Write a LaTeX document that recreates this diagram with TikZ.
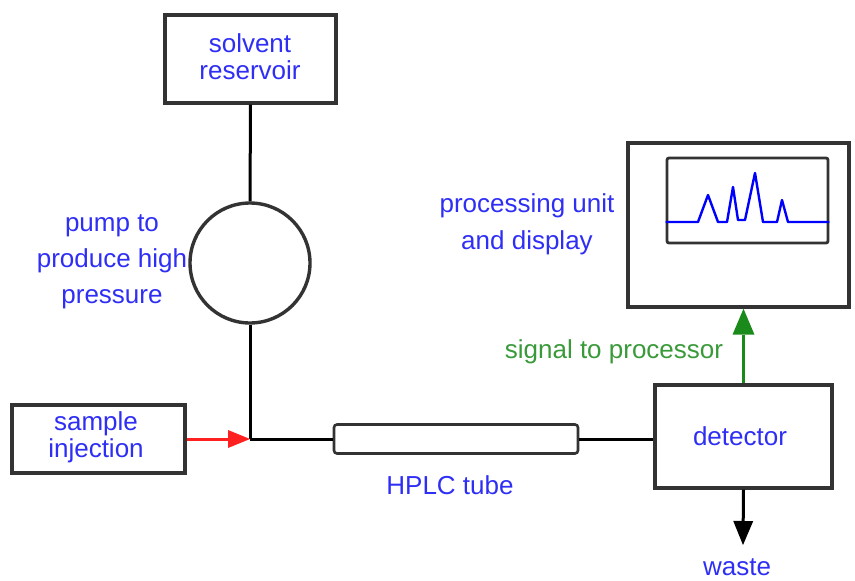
\documentclass[tikz,border=0pt]{standalone}
\usepackage{fontspec}
\setmainfont{Liberation Sans}
\usetikzlibrary{arrows.meta}
\definecolor{txtblue}{HTML}{2E2EF5}
\definecolor{txtgreen}{HTML}{3A9A3A}
\definecolor{arrgreen}{HTML}{1A8A1A}
\definecolor{arrred}{HTML}{FF2020}
\definecolor{boxgray}{HTML}{333333}
\begin{document}
\begin{tikzpicture}[x=1pt,y=-1pt,
  box/.style={draw=boxgray,line width=3.4pt,fill=white,inner sep=0pt},
  lbl/.style={text=txtblue,font=\fontsize{26}{27}\selectfont,align=center,inner sep=0pt},
  pipe/.style={line width=3pt,black},
]
\useasboundingbox (0,0) rectangle (855,581);
% boxes
\node[box,minimum width=171pt,minimum height=88pt] (solv) at (250.5,59) {};
\node[box,circle,minimum size=120pt] (pump) at (250,263) {};
\node[box,minimum width=173pt,minimum height=68pt] (samp) at (98.5,439) {};
\node[box,line width=2.6pt,rounded corners=3pt,minimum width=244pt,minimum height=29pt] (tube) at (456,439) {};
\node[box,minimum width=177pt,minimum height=103pt] (det) at (743.5,436.5) {};
\node[box,minimum width=221pt,minimum height=164pt] (proc) at (738.5,225) {};
\node[box,line width=2.8pt,rounded corners=2pt,minimum width=161pt,minimum height=85pt] (scr) at (747.5,200.5) {};
\coordinate (junc) at (250,439);
\coordinate (wasteend) at (743,545);
% connectors
\draw[pipe] (solv.south) -- (pump.north);
\draw[pipe] (pump.south) -- (junc);
\draw[pipe] (junc) -- (tube.west);
\draw[pipe] (tube.east) -- (tube.east -| det.west);
\draw[line width=3pt,arrred,-{Triangle[length=22pt,width=18pt,line width=0pt]}] (samp.east |- junc) -- (junc);
\draw[line width=3pt,arrgreen,-{Triangle[length=26pt,width=22pt,line width=0pt]}] (det.north) -- (det.north |- proc.south);
\draw[line width=3pt,black,-{Triangle[length=24pt,width=20pt,line width=0pt]}] (det.south) -- (wasteend);
% chromatogram
\draw[line width=2.4pt,blue,line join=round]
  (scr.west |- 0,222) -- (698,222) -- (708,195) -- (718,222) -- (727,222) -- (733,187)
  -- (738,220) -- (745,220) -- (755,173) -- (763,222) -- (777,222) -- (782,200) -- (788,222)
  -- (scr.east |- 0,222);
% labels
\node[lbl] (solvtxt) at (250,57) {solvent\\reservoir};
\node[lbl] (pumptxt) at (112,262) {pump to\\[9pt]produce high\\[9pt]pressure};
\node[lbl] (samptxt) at (96,437) {sample\\injection};
\node[lbl] (tubetxt) at (450,485) {HPLC tube};
\node[lbl] (dettxt) at (740,436) {detector};
\node[lbl] (wastetxt) at (737,567) {waste};
\node[lbl] (proctxt) at (527,224) {processing unit\\[10pt]and display};
\node[lbl,text=txtgreen] (sigtxt) at (614,352) {signal to processor};
\end{tikzpicture}
\end{document}
